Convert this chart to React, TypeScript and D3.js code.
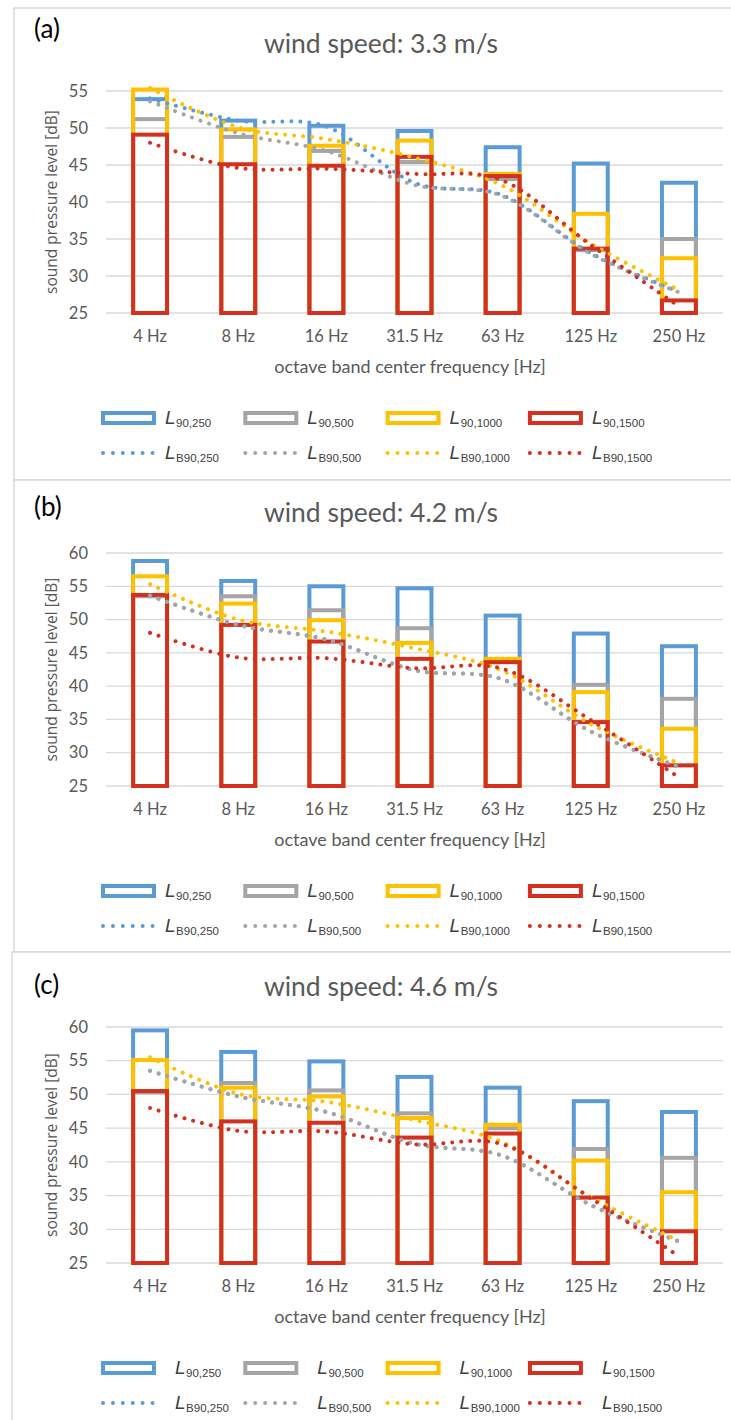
import React from "react";
import * as d3 from "d3";

// categories and series
const categories = ["4 Hz", "8 Hz", "16 Hz", "31.5 Hz", "63 Hz", "125 Hz", "250 Hz"];
const distances = ["250", "500", "1000", "1500"];
const colors = ["#5B9BD5", "#A5A5A5", "#FFC000", "#D3301F"];
const panelLabels = ["(a)", "(b)", "(c)"];
const windSpeeds = ["3.3", "4.2", "4.6"];
const yMaxes = [55, 60, 60];

// (a) wind speed 3.3 m/s
const L90_250_a = [53.9, 51.0, 50.3, 49.6, 47.4, 45.2, 42.6];
const L90_500_a = [51.2, 48.8, 46.9, 45.4, 43.1, 33.5, 35.0];
const L90_1000_a = [55.2, 49.8, 47.6, 48.3, 43.8, 38.4, 32.4];
const L90_1500_a = [49.1, 45.1, 44.9, 46.1, 43.5, 33.7, 26.7];
const LB90_250_a = [54.0, 51.0, 50.2, 42.6, 40.9, 33.1, 27.9];
const LB90_500_a = [53.6, 49.3, 46.9, 42.3, 40.8, 33.0, 27.8];
const LB90_1000_a = [55.4, 50.1, 48.5, 46.0, 42.2, 34.4, 28.1];
const LB90_1500_a = [48.0, 44.6, 44.5, 43.8, 42.9, 34.2, 25.9];

// (b) wind speed 4.2 m/s
const L90_250_b = [58.8, 55.8, 55.0, 54.7, 50.6, 47.9, 46.0];
const L90_500_b = [53.5, 53.5, 51.4, 48.7, 43.8, 40.2, 38.1];
const L90_1000_b = [56.5, 52.4, 49.9, 46.5, 44.1, 39.1, 33.6];
const L90_1500_b = [53.7, 49.2, 46.7, 44.1, 43.6, 34.6, 28.1];
const LB90_250_b = [53.6, 49.2, 47.0, 42.4, 41.0, 33.2, 27.9];
const LB90_500_b = [53.6, 49.2, 47.0, 42.4, 41.0, 33.2, 27.9];
const LB90_1000_b = [55.3, 50.0, 48.2, 45.7, 42.3, 34.3, 28.4];
const LB90_1500_b = [48.0, 44.3, 44.2, 42.7, 42.6, 34.9, 26.3];

// (c) wind speed 4.6 m/s
const L90_250_c = [59.5, 56.3, 54.9, 52.6, 51.0, 49.0, 47.4];
const L90_500_c = [50.3, 51.7, 50.6, 47.2, 45.0, 41.9, 40.6];
const L90_1000_c = [55.1, 51.0, 49.7, 46.5, 45.5, 40.2, 35.5];
const L90_1500_c = [50.5, 46.0, 45.8, 43.6, 44.2, 34.7, 29.7];
const LB90_250_c = [53.5, 49.7, 47.4, 42.7, 40.9, 33.6, 28.2];
const LB90_500_c = [53.5, 49.7, 47.4, 42.7, 40.9, 33.6, 28.2];
const LB90_1000_c = [55.5, 50.1, 48.9, 46.2, 42.9, 34.8, 28.3];
const LB90_1500_c = [48.0, 44.6, 44.5, 42.6, 42.6, 34.6, 26.0];

const barSets = [
  [L90_250_a, L90_500_a, L90_1000_a, L90_1500_a],
  [L90_250_b, L90_500_b, L90_1000_b, L90_1500_b],
  [L90_250_c, L90_500_c, L90_1000_c, L90_1500_c],
];
const lineSets = [
  [LB90_250_a, LB90_500_a, LB90_1000_a, LB90_1500_a],
  [LB90_250_b, LB90_500_b, LB90_1000_b, LB90_1500_b],
  [LB90_250_c, LB90_500_c, LB90_1000_c, LB90_1500_c],
];

// page layout of the three stacked panels
const layouts = [
  { boxLeft: 14, boxTop: 8, boxBottom: 480, labelY: 38, titleY: 53, gridTop: 91, gridBottom: 313, legendGap: 64 },
  { boxLeft: 14, boxTop: 480, boxBottom: 952, labelY: 516, titleY: 522, gridTop: 553, gridBottom: 786, legendGap: 64 },
  { boxLeft: 12, boxTop: 952, boxBottom: 1440, labelY: 994, titleY: 996, gridTop: 1027, gridBottom: 1263, legendGap: 74 },
];

const W = 731;
const H = 1420;
const textColor = "#595959";
const chartFont = "Lato, 'Open Sans', sans-serif";

const x = d3.scaleBand().domain(categories).range([106, 723]);
const barW = x.bandwidth() * 0.385;
const cx = (i: number) => (x(categories[i]) as number) + x.bandwidth() / 2;

function LegendLabel({ x0, y0, prefix, sub }: { x0: number; y0: number; prefix: string; sub: string }) {
  return (
    <text x={x0} y={y0 + 5.5} fontFamily="'Liberation Sans', Arial, sans-serif" fill="#404040">
      <tspan fontStyle="italic" fontSize={19}>L</tspan>
      <tspan fontSize={11.5} dy={3.5} dx={0.5}>{prefix + sub}</tspan>
    </text>
  );
}

function Panel({ idx }: { idx: number }) {
  const lay = layouts[idx];
  const y = d3.scaleLinear().domain([25, yMaxes[idx]]).range([lay.gridBottom, lay.gridTop]);
  const ticks = y.ticks((yMaxes[idx] - 25) / 5);
  const line = d3
    .line<number>()
    .x((_, i) => cx(i))
    .y((d) => y(d))
    .curve(d3.curveCardinal.tension(0));
  const row1 = lay.gridBottom + 105;
  const row2 = lay.gridBottom + 140;

  return (
    <g>
      <rect x={lay.boxLeft} y={lay.boxTop} width={W + 20} height={lay.boxBottom - lay.boxTop}
        fill="#fff" stroke="#D9D9D9" strokeWidth={1.5} />
      <text x={34} y={lay.labelY} fontFamily={chartFont} fontSize={26} fill="#000">{panelLabels[idx]}</text>
      <text x={381} y={lay.titleY} textAnchor="middle" fontFamily={chartFont} fontSize={26.5} fill={textColor}>
        {`wind speed: ${windSpeeds[idx]} m/s`}
      </text>

      {ticks.map((t) => (
        <g key={t}>
          <line x1={106} x2={723} y1={y(t)} y2={y(t)} stroke="#D9D9D9" strokeWidth={1.3} />
          <text x={88} y={y(t)} dy="0.35em" textAnchor="end" fontFamily={chartFont} fontSize={16.5} fill={textColor}>
            {t}
          </text>
        </g>
      ))}

      <text
        transform={`translate(57, ${(lay.gridTop + lay.gridBottom) / 2}) rotate(-90)`}
        textAnchor="middle" fontFamily="'Open Sans', sans-serif" fontSize={15.5} fill={textColor}
      >
        sound pressure level [dB]
      </text>

      {barSets[idx].map((vals, s) => (
        <g key={s}>
          {vals.map((v, i) => (
            <rect key={i} x={cx(i) - barW / 2} y={y(v)} width={barW} height={y(25) - y(v)}
              fill="none" stroke={colors[s]} strokeWidth={4} />
          ))}
        </g>
      ))}

      {lineSets[idx].map((vals, s) => (
        <path key={s} d={line(vals) || ""} fill="none" stroke={colors[s]} strokeWidth={4}
          strokeLinecap="round" strokeDasharray="0.01 9" />
      ))}

      {categories.map((c, i) => (
        <text key={c} x={cx(i)} y={lay.gridBottom + 29} textAnchor="middle" fontFamily={chartFont}
          fontSize={16.5} fill={textColor}>{c}</text>
      ))}
      <text x={410} y={lay.gridBottom + 60} textAnchor="middle" fontFamily={chartFont} fontSize={18} fill={textColor}>
        octave band center frequency [Hz]
      </text>

      {distances.map((d, s) => {
        const lx = 101 + s * 142.3;
        return (
          <g key={d}>
            <rect x={lx + 2} y={row1 - 5} width={51} height={10} fill="none" stroke={colors[s]} strokeWidth={4} />
            <LegendLabel x0={lx + lay.legendGap} y0={row1} prefix="90," sub={d} />
            <line x1={lx + 2} x2={lx + 52} y1={row2} y2={row2} stroke={colors[s]} strokeWidth={4}
              strokeLinecap="round" strokeDasharray="0.01 9.9" />
            <LegendLabel x0={lx + lay.legendGap} y0={row2} prefix="B90," sub={d} />
          </g>
        );
      })}
    </g>
  );
}

export default function App() {
  return (
    <div style={{ position: "absolute", left: 0, top: 0 }}>
      <svg width={W} height={H} style={{ display: "block", background: "#fff" }}>
        {[0, 1, 2].map((i) => (
          <Panel key={i} idx={i} />
        ))}
      </svg>
    </div>
  );
}
